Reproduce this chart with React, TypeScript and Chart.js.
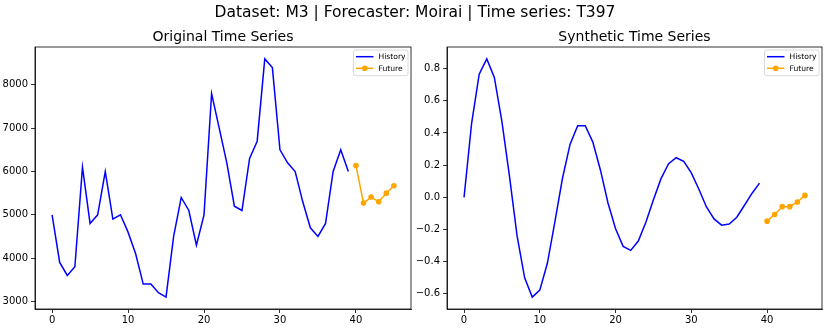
import React, { useEffect, useRef } from "react";
import { Chart, registerables } from "chart.js";

Chart.register(...registerables);

const SUPTITLE = "Dataset: M3 | Forecaster: Moirai | Time series: T397";
const TITLE_ORIGINAL = "Original Time Series";
const TITLE_SYNTHETIC = "Synthetic Time Series";
const LABEL_HISTORY = "History";
const LABEL_FUTURE = "Future";

const historySteps = [
  0, 1, 2, 3, 4, 5, 6, 7, 8, 9, 10, 11, 12, 13, 14, 15, 16, 17, 18, 19,
  20, 21, 22, 23, 24, 25, 26, 27, 28, 29, 30, 31, 32, 33, 34, 35, 36, 37, 38, 39,
];
const futureSteps = [40, 41, 42, 43, 44, 45];

const originalHistory = [
  5000, 3900, 3600, 3800, 6100, 4800, 5000, 6000, 4900, 5000,
  4600, 4100, 3400, 3400, 3200, 3100, 4500, 5400, 5100, 4300,
  5000, 7800, 7000, 6200, 5200, 5100, 6300, 6700, 8600, 8400,
  6500, 6200, 6000, 5300, 4700, 4500, 4800, 6000, 6500, 6000,
];
const originalFuture = [6140, 5270, 5410, 5300, 5500, 5670];

const syntheticHistory = [
  0.0, 0.46, 0.765, 0.86, 0.745, 0.47, 0.13, -0.24, -0.5, -0.62,
  -0.577, -0.41, -0.15, 0.12, 0.33, 0.445, 0.445, 0.343, 0.17, -0.035,
  -0.195, -0.305, -0.33, -0.272, -0.155, -0.015, 0.116, 0.209, 0.246, 0.224,
  0.152, 0.05, -0.06, -0.134, -0.173, -0.166, -0.124, -0.051, 0.024, 0.088,
];
const syntheticFuture = [-0.148, -0.107, -0.058, -0.058, -0.029, 0.012];

const xTicks = [0, 10, 20, 30, 40];
const originalYTicks = [3000, 4000, 5000, 6000, 7000, 8000];
const syntheticYTicks = [-0.6, -0.4, -0.2, 0.0, 0.2, 0.4, 0.6, 0.8];

const FONT = "'DejaVu Sans', sans-serif";
const HISTORY_COLOR = "#0000ff";
const FUTURE_COLOR = "#ffa500";

function pad5(values: number[]): [number, number] {
  const mn = Math.min(...values);
  const mx = Math.max(...values);
  const m = (mx - mn) * 0.05;
  return [mn - m, mx + m];
}

const framePlugin = {
  id: "frame",
  afterDraw(chart: any) {
    const { ctx, chartArea } = chart;
    ctx.save();
    ctx.strokeStyle = "#000";
    ctx.lineWidth = 0.8;
    ctx.strokeRect(chartArea.left, chartArea.top, chartArea.right - chartArea.left, chartArea.bottom - chartArea.top);
    ctx.restore();
  },
};

const legendPlugin = {
  id: "boxLegend",
  afterDraw(chart: any) {
    const { ctx, chartArea } = chart;
    const ds = chart.data.datasets;
    ctx.save();
    ctx.font = `7.6px ${FONT}`;
    const padL = 2.5;
    const handle = 17.5;
    const gap = 5;
    const padR = 2.5;
    let tw = 0;
    ds.forEach((d: any) => {
      tw = Math.max(tw, ctx.measureText(d.label).width);
    });
    const w = padL + handle + gap + tw + padR;
    const h = 25.7;
    const x = chartArea.right - 3 - w;
    const y = chartArea.top + 3;
    ctx.beginPath();
    if (ctx.roundRect) ctx.roundRect(x, y, w, h, 2);
    else ctx.rect(x, y, w, h);
    ctx.fillStyle = "rgba(255,255,255,0.8)";
    ctx.fill();
    ctx.strokeStyle = "#d0d0d0";
    ctx.lineWidth = 0.8;
    ctx.stroke();
    ds.forEach((d: any, i: number) => {
      const cy = y + 6.7 + i * 11.6;
      ctx.beginPath();
      ctx.strokeStyle = d.borderColor;
      ctx.lineWidth = d.borderWidth;
      ctx.moveTo(x + padL, cy);
      ctx.lineTo(x + padL + handle, cy);
      ctx.stroke();
      if (d.pointRadius > 0) {
        ctx.beginPath();
        ctx.fillStyle = d.pointBackgroundColor;
        ctx.arc(x + padL + handle / 2, cy, d.pointRadius, 0, Math.PI * 2);
        ctx.fill();
      }
      ctx.fillStyle = "#000";
      ctx.textAlign = "left";
      ctx.textBaseline = "middle";
      ctx.fillText(d.label, x + padL + handle + gap, cy + 0.5);
    });
    ctx.restore();
  },
};

function makeConfig(
  hist: number[],
  fut: number[],
  yTicks: number[],
  yFmt: (v: number) => string,
  yWidth: number,
  padRight: number
): any {
  const [ymin, ymax] = pad5([...hist, ...fut]);
  const [xmin, xmax] = pad5([...historySteps, ...futureSteps]);
  return {
    type: "line",
    data: {
      datasets: [
        {
          label: LABEL_HISTORY,
          data: historySteps.map((x, i) => ({ x, y: hist[i] })),
          borderColor: HISTORY_COLOR,
          backgroundColor: HISTORY_COLOR,
          borderWidth: 1.5,
          pointRadius: 0,
          pointBackgroundColor: HISTORY_COLOR,
          tension: 0,
          fill: false,
        },
        {
          label: LABEL_FUTURE,
          data: futureSteps.map((x, i) => ({ x, y: fut[i] })),
          borderColor: FUTURE_COLOR,
          backgroundColor: FUTURE_COLOR,
          borderWidth: 1.5,
          pointRadius: 2.8,
          pointBorderWidth: 0,
          pointBackgroundColor: FUTURE_COLOR,
          tension: 0,
          fill: false,
        },
      ],
    },
    options: {
      animation: false,
      responsive: false,
      devicePixelRatio: 1,
      layout: { padding: { left: 0, top: 47, right: padRight, bottom: 0 } },
      plugins: {
        legend: { display: false },
        tooltip: { enabled: false },
        title: { display: false },
      },
      scales: {
        x: {
          type: "linear",
          min: xmin,
          max: xmax,
          afterFit: (s: any) => {
            s.height = 21;
          },
          afterBuildTicks: (s: any) => {
            s.ticks = xTicks.map((v) => ({ value: v }));
          },
          ticks: {
            color: "#000",
            font: { family: FONT, size: 10 },
            padding: 1,
            maxRotation: 0,
            autoSkip: false,
            callback: (v: number) => String(v),
          },
          grid: {
            display: true,
            drawOnChartArea: false,
            drawTicks: true,
            tickLength: 4,
            tickColor: "#000",
            tickWidth: 0.8,
          },
          border: { display: true, color: "#000", width: 0.8 },
        },
        y: {
          type: "linear",
          min: ymin,
          max: ymax,
          afterFit: (s: any) => {
            s.width = yWidth;
          },
          afterBuildTicks: (s: any) => {
            s.ticks = yTicks.map((v) => ({ value: v }));
          },
          ticks: {
            color: "#000",
            font: { family: FONT, size: 10 },
            padding: 3,
            autoSkip: false,
            callback: (v: number) => yFmt(v),
          },
          grid: {
            display: true,
            drawOnChartArea: false,
            drawTicks: true,
            tickLength: 4,
            tickColor: "#000",
            tickWidth: 0.8,
          },
          border: { display: true, color: "#000", width: 0.8 },
        },
      },
    },
    plugins: [framePlugin, legendPlugin],
  };
}

const fmtInt = (v: number) => String(Math.round(v));
const fmtDec = (v: number) => {
  const r = Math.round(v * 10) / 10;
  const s = (Math.abs(r) < 1e-9 ? 0 : r).toFixed(1);
  return s.replace("-", "\u2212");
};

function Panel(props: {
  left: number;
  hist: number[];
  fut: number[];
  yTicks: number[];
  fmt: (v: number) => string;
  yWidth: number;
  padRight: number;
}) {
  const ref = useRef<HTMLCanvasElement | null>(null);
  useEffect(() => {
    if (!ref.current) return;
    const chart = new Chart(
      ref.current,
      makeConfig(props.hist, props.fut, props.yTicks, props.fmt, props.yWidth, props.padRight)
    );
    return () => chart.destroy();
  }, []);
  return (
    <canvas
      ref={ref}
      width={415}
      height={330}
      style={{ position: "absolute", left: props.left, top: 0, width: 415, height: 330 }}
    />
  );
}

export default function App() {
  const titleStyle: React.CSSProperties = {
    position: "absolute",
    textAlign: "center",
    fontFamily: FONT,
    color: "#000",
    whiteSpace: "nowrap",
  };
  return (
    <div
      style={{
        position: "fixed",
        left: 0,
        top: 0,
        width: 830,
        height: 330,
        background: "#fff",
        overflow: "hidden",
      }}
    >
      <Panel left={0} hist={originalHistory} fut={originalFuture} yTicks={originalYTicks} fmt={fmtInt} yWidth={35} padRight={4} />
      <Panel left={415} hist={syntheticHistory} fut={syntheticFuture} yTicks={syntheticYTicks} fmt={fmtDec} yWidth={32} padRight={8} />
      <div style={{ ...titleStyle, left: 0, top: 5, width: 830, fontSize: 15.5, lineHeight: "15.5px" }}>{SUPTITLE}</div>
      <div style={{ ...titleStyle, left: 35, top: 29, width: 376, fontSize: 14, lineHeight: "14px" }}>{TITLE_ORIGINAL}</div>
      <div style={{ ...titleStyle, left: 447, top: 29, width: 375, fontSize: 14, lineHeight: "14px" }}>{TITLE_SYNTHETIC}</div>
    </div>
  );
}
